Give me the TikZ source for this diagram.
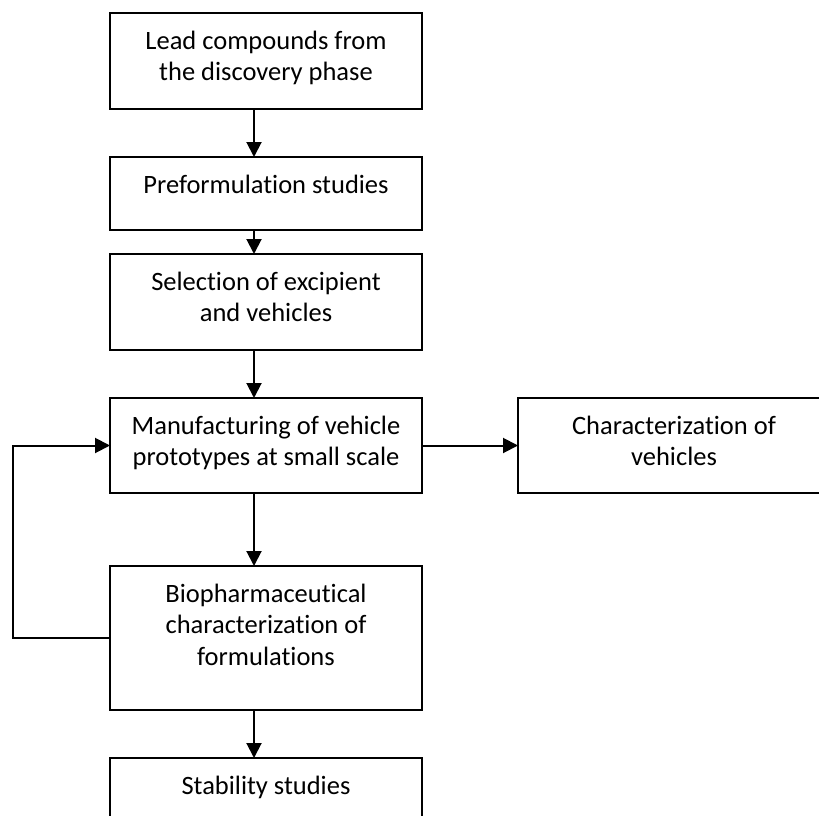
\documentclass[tikz,border=0pt]{standalone}
\usepackage{fontspec}
\setmainfont{Carlito}[Ligatures={NoCommon}]
\usetikzlibrary{arrows.meta}

% box content: fixed-size parbox, text hung from the top with a strut
\newcommand{\stagetext}[2]{%
  \parbox[c][#1pt][t]{312pt}{\centering\fontsize{26.5pt}{31.6pt}\selectfont
    \rule{0pt}{36pt}#2}}

\begin{document}
\begin{tikzpicture}[x=1pt,y=-1pt,
  stagebox/.style={draw=black, line width=2pt, inner sep=0pt, outer sep=0pt,
    anchor=north west, fill=white},
  flow/.style={draw=black, line width=2pt,
    -{Triangle[length=15pt,width=15pt]}}]
  \useasboundingbox (0,0) rectangle (819,816);
  \fill[white] (0,0) rectangle (819,816);
  \clip (0,0) rectangle (819,816);

  \node[stagebox] (lead) at (110,13)
    {\stagetext{96}{Lead compounds from\\the discovery phase}};
  \node[stagebox] (prefo) at (110,157)
    {\stagetext{73}{Preformulation studies}};
  \node[stagebox] (excip) at (110,254)
    {\stagetext{96}{Selection of excipient\\and vehicles}};
  \node[stagebox] (manuf) at (110,398)
    {\stagetext{95}{Manufacturing of vehicle\\prototypes at small scale}};
  \node[stagebox] (charv) at (518,398)
    {\stagetext{95}{Characterization of\\vehicles}};
  \node[stagebox] (bioph) at (110,566)
    {\stagetext{144}{Biopharmaceutical\\characterization of\\formulations}};
  \node[stagebox] (stab) at (110,758)
    {\stagetext{73}{Stability studies}};

  \draw[flow] ([xshift=-12pt]lead.south)  -- ([xshift=-12pt]prefo.north);
  \draw[flow] ([xshift=-12pt]prefo.south) -- ([xshift=-12pt]excip.north);
  \draw[flow] ([xshift=-12pt]excip.south) -- ([xshift=-12pt]manuf.north);
  \draw[flow] ([xshift=-12pt]manuf.south) -- ([xshift=-12pt]bioph.north);
  \draw[flow] ([xshift=-12pt]bioph.south) -- ([xshift=-12pt]stab.north);
  \draw[flow] (manuf.east) -- (charv.west);
  \draw[flow] (bioph.west) -- ([xshift=-97pt]bioph.west) |- (manuf.west);
\end{tikzpicture}
\end{document}
